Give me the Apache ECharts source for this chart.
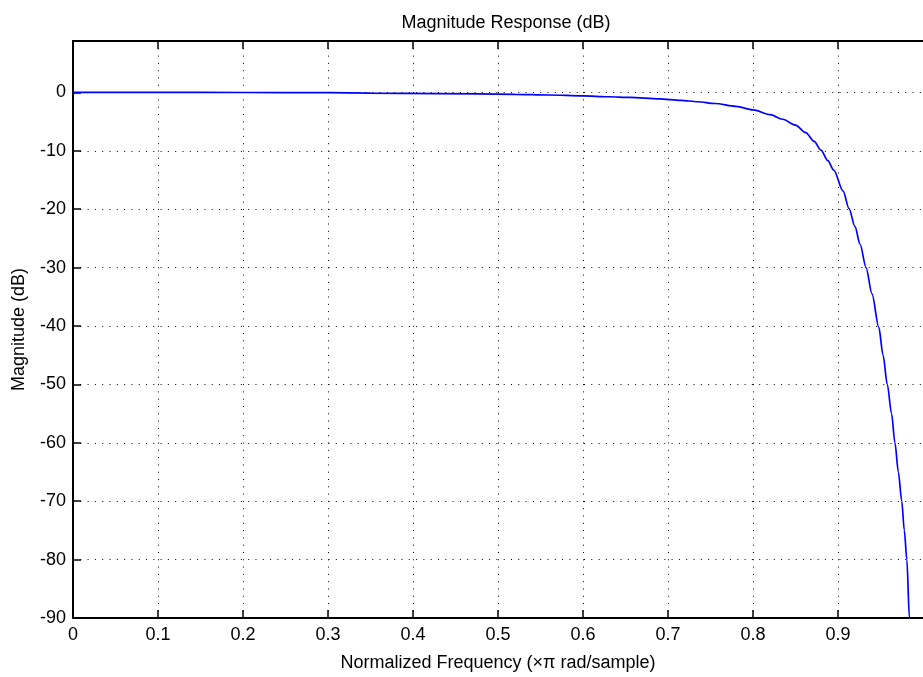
<!DOCTYPE html>
<html>
<head>
<meta charset="utf-8">
<script src="https://cdn.jsdelivr.net/npm/echarts@6/dist/echarts.min.js"></script>
<style>
html,body{margin:0;padding:0;background:#fff;}
#chart{width:923px;height:677px;}
</style>
</head>
<body>
<div id="chart"></div>
<script>
const freq = [0, 0.1, 0.2, 0.3, 0.35, 0.43, 0.52, 0.56, 0.6, 0.63, 0.655, 0.69, 0.715, 0.735, 0.755, 0.78, 0.8, 0.82, 0.835, 0.85, 0.862, 0.872, 0.88, 0.888, 0.895, 0.906, 0.913, 0.92, 0.926, 0.933, 0.94, 0.948, 0.953, 0.958, 0.963, 0.967, 0.971, 0.975, 0.978, 0.981, 0.984, 0.986];
const magDb = [0, 0, -0.02, -0.05, -0.12, -0.2, -0.33, -0.45, -0.6, -0.75, -0.85, -1.1, -1.35, -1.6, -1.9, -2.4, -3.0, -3.8, -4.6, -5.6, -6.9, -8.4, -9.9, -11.7, -13.3, -16.9, -19.9, -23, -26, -30, -34.5, -40.2, -45, -50, -55, -60, -65, -70, -75, -80, -90, -95];
const xTickValues = [0, 0.1, 0.2, 0.3, 0.4, 0.5, 0.6, 0.7, 0.8, 0.9];
const yTickValues = [-90, -80, -70, -60, -50, -40, -30, -20, -10, 0];
const titleText = 'Magnitude Response (dB)';
const xName = 'Normalized Frequency (\u00d7\u03c0 rad/sample)';
const yName = 'Magnitude (dB)';

const FONT = 'Liberation Sans';
const chart = echarts.init(document.getElementById('chart'), null, {renderer: 'canvas'});
const gridLine = {show: true, lineStyle: {color: '#000', width: 1, type: [1, 6.3]}};
chart.setOption({
  backgroundColor: '#fff',
  animation: false,
  title: {
    text: titleText, left: 501, textAlign: 'center', top: 9,
    textStyle: {fontFamily: FONT, fontSize: 18, fontWeight: 'normal', color: '#000'}
  },
  grid: {left: 73, right: -7, top: 41, bottom: 57, containLabel: false},
  xAxis: [{
    type: 'value', min: 0, max: 1, interval: 0.1, position: 'bottom',
    name: xName, nameLocation: 'middle', nameGap: 36,
    nameTextStyle: {fontFamily: FONT, fontSize: 18, color: '#000'},
    axisLine: {show: true, onZero: false, lineStyle: {color: '#000', width: 2}},
    axisTick: {show: true, inside: true, length: 8, lineStyle: {color: '#000', width: 1.5}, customValues: xTickValues},
    axisLabel: {fontFamily: FONT, fontSize: 18, color: '#000', margin: 8, customValues: xTickValues},
    splitLine: gridLine
  }, {
    type: 'value', min: 0, max: 1, interval: 0.1, position: 'top',
    axisLine: {show: true, onZero: false, lineStyle: {color: '#000', width: 2}},
    axisTick: {show: true, inside: true, length: 8, lineStyle: {color: '#000', width: 1.5}, customValues: xTickValues},
    axisLabel: {show: false},
    splitLine: {show: false}
  }],
  yAxis: [{
    type: 'value', min: -90, max: 8.8, interval: 10,
    name: yName, nameLocation: 'middle', nameGap: 45, nameRotate: 90,
    nameTextStyle: {fontFamily: FONT, fontSize: 18, color: '#000'},
    axisLine: {show: true, onZero: false, lineStyle: {color: '#000', width: 2}},
    axisTick: {show: true, inside: true, length: 8, lineStyle: {color: '#000', width: 1.5}, customValues: yTickValues},
    axisLabel: {fontFamily: FONT, fontSize: 18, color: '#000', margin: 7, customValues: yTickValues},
    splitLine: gridLine
  }],
  series: [{
    type: 'line',
    xAxisIndex: 0,
    data: freq.map((f, i) => [f, magDb[i]]),
    showSymbol: false,
    symbol: 'none',
    smooth: 0.3,
    smoothMonotone: 'x',
    clip: true,
    lineStyle: {color: '#0000ff', width: 1.7},
    z: 5
  }]
});
</script>
</body>
</html>
